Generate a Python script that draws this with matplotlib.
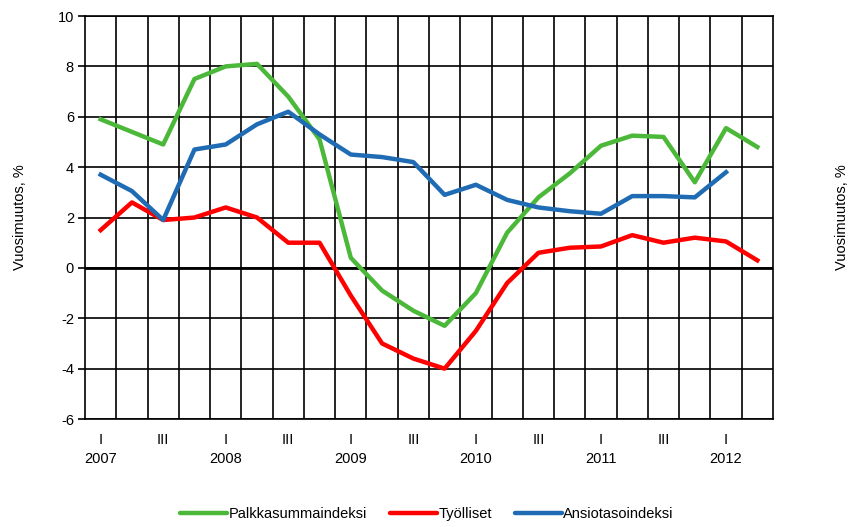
import matplotlib
matplotlib.use('Agg')
import matplotlib.pyplot as plt
import numpy as np
from matplotlib.lines import Line2D

plt.rcParams['font.family'] = ['Liberation Sans', 'DejaVu Sans']

# quarters 2007 Q1 .. 2012 Q2
years = ['2007', '2008', '2009', '2010', '2011', '2012']
n_quarters = 22

palkkasumma = [5.9, 5.4, 4.9, 7.5, 8.0, 8.1, 6.8, 5.1, 0.4, -0.9, -1.7, -2.3,
               -1.0, 1.4, 2.8, 3.75, 4.85, 5.25, 5.2, 3.4, 5.55, 4.8]
tyolliset = [1.5, 2.6, 1.9, 2.0, 2.4, 2.0, 1.0, 1.0, -1.1, -3.0, -3.6, -4.0,
             -2.5, -0.6, 0.6, 0.8, 0.85, 1.3, 1.0, 1.2, 1.05, 0.3]
ansiotaso = [3.7, 3.05, 1.9, 4.7, 4.9, 5.7, 6.2, 5.3, 4.5, 4.4, 4.2, 2.9,
             3.3, 2.7, 2.4, 2.25, 2.15, 2.85, 2.85, 2.8, 3.8]

green = '#4CB83A'
red = '#FF0000'
blue = '#1F6CB4'

fig = plt.figure(figsize=(8.51, 5.27), dpi=100, facecolor='white')
ax = fig.add_axes([0.0999, 0.2049, 0.8084, 0.7647])

x = np.arange(n_quarters)
ax.plot(x, palkkasumma, color=green, lw=3.2, solid_joinstyle='round', zorder=3)
ax.plot(x, tyolliset, color=red, lw=3.2, solid_joinstyle='round', zorder=3)
ax.plot(np.arange(len(ansiotaso)), ansiotaso, color=blue, lw=3.2,
        solid_joinstyle='round', zorder=3)

ax.set_xlim(-0.5, n_quarters - 0.5)
ax.set_ylim(-6, 10)
yt = np.arange(-6, 11, 2)
ax.set_yticks(yt)
ax.set_yticklabels([str(v) for v in yt])

# grid: horizontal at ticks, vertical at quarter boundaries
for v in yt:
    ax.axhline(v, color='black', lw=1.2, zorder=1)
ax.axhline(0, color='black', lw=2.0, zorder=2)
for b in np.arange(0.5, n_quarters - 0.5, 1):
    ax.axvline(b, color='black', lw=1.2, zorder=1)

for s in ax.spines.values():
    s.set_color('black')
    s.set_linewidth(1.2)

xlabels = []
xpos = []
for i in range(n_quarters):
    q = i % 4
    if q == 0:
        xpos.append(i)
        xlabels.append('I\n' + years[i // 4])
    elif q == 2:
        xpos.append(i)
        xlabels.append('III\n ')
ax.set_xticks(xpos)
ax.set_xticklabels(xlabels, fontsize=10.5, linespacing=1.45)
ax.tick_params(axis='x', length=0, pad=10)
ax.tick_params(axis='y', which='both', length=5, width=1.2, labelsize=10.5,
               left=True, right=True, labelleft=True, labelright=True, pad=3)

ax.set_ylabel('Vuosimuutos, %', fontsize=10.5, labelpad=22)
ax2 = ax.twinx()
ax2.set_ylim(-6, 10)
ax2.set_yticks([])
ax2.set_ylabel('Vuosimuutos, %', fontsize=10.5, rotation=90, labelpad=45)
for s in ax2.spines.values():
    s.set_visible(False)

handles = [Line2D([], [], color=green, lw=3.2, solid_capstyle='round'),
           Line2D([], [], color=red, lw=3.2, solid_capstyle='round'),
           Line2D([], [], color=blue, lw=3.2, solid_capstyle='round')]
fig.legend(handles, ['Palkkasummaindeksi', 'Työlliset', 'Ansiotasoindeksi'],
           loc='center', bbox_to_anchor=(0.502, 0.025), ncol=3, frameon=False,
           fontsize=10.5, handlelength=3.2, handletextpad=0.1,
           columnspacing=1.6)

fig.savefig('out.png', dpi=100, facecolor='white')
